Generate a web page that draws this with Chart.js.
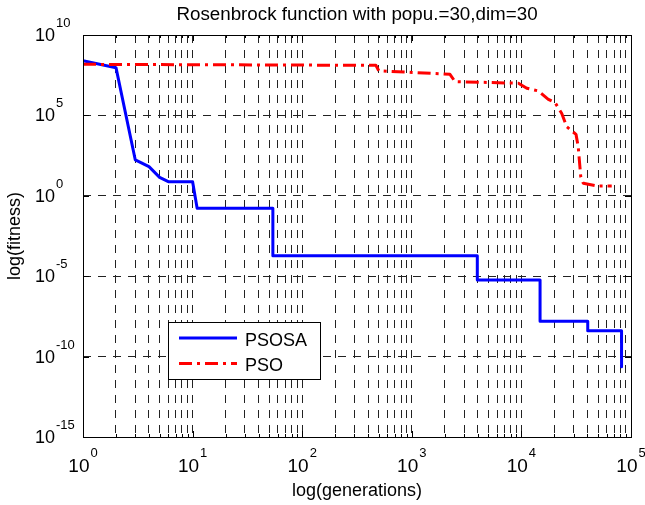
<!DOCTYPE html>
<html>
<head>
<meta charset="utf-8">
<script src="https://cdn.jsdelivr.net/npm/chart.js@4/dist/chart.umd.min.js"></script>
<style>
  html, body { margin: 0; padding: 0; background: #fff; }
  canvas { display: block; }
</style>
</head>
<body>
<canvas id="c" width="645" height="505"></canvas>
<script>
// Texts
const titleText = 'Rosenbrock function with popu.=30,dim=30';
const xTitle = 'log(generations)';
const yTitle = 'log(fitness)';
const seriesNames = ['PSOSA', 'PSO'];

// Tick label exponents (10^e)
const xTickExponents = [0, 1, 2, 3, 4, 5];
const yTickExponents = [-15, -10, -5, 0, 5, 10];

// PSOSA convergence curve
const psosaGen = [1, 2, 3, 4, 5, 6, 10, 11, 54, 54, 3960, 3960, 14800, 14800, 40300, 40300, 82000, 82000];
const psosaFit = [2.5e8, 9.3e7, 170, 65, 14, 7.6, 7.6, 0.166, 0.166, 1.9e-4, 1.9e-4, 5.8e-6, 5.8e-6, 1.6e-8, 1.6e-8, 4.1e-9, 4.1e-9, 2.3e-11];

// PSO convergence curve
const psoGen = [1, 470, 500, 2230, 2480, 9400, 11200, 14300, 17600, 20300, 23300, 25900, 31500, 33000, 34800, 36700, 48700, 66700];
const psoFit = [1.5e8, 1.3e8, 5.9e7, 3.6e7, 1.26e7, 1.0e7, 4.9e6, 3.3e6, 1.0e6, 6.2e5, 1.35e5, 2.0e4, 6.6e3, 1.1e3, 15.5, 6.0, 4.1, 4.1];

const FONT = '"Liberation Sans", Arial, Helvetica, sans-serif';
const BLUE = '#0000ff';
const RED = '#ff0000';
const PSO_DASH = [13, 5, 3, 5];

const toPoints = (xs, ys) => xs.map((v, i) => ({ x: v, y: ys[i] }));

// Decade ticks with minor 2..9 subdivisions for the generations axis
function decadeTicks(exps) {
  const out = [];
  for (let k = 0; k < exps.length; k++) {
    const base = Math.pow(10, exps[k]);
    out.push({ value: base, major: true });
    if (k < exps.length - 1) {
      for (let m = 2; m <= 9; m++) out.push({ value: m * base, major: false });
    }
  }
  return out;
}

function drawPow(ctx, px, py, exp, baseSize, expSize, align, dyBase, dyExp) {
  const base = '10';
  const e = String(exp);
  ctx.font = baseSize + 'px ' + FONT;
  const wb = ctx.measureText(base).width;
  ctx.font = expSize + 'px ' + FONT;
  const we = ctx.measureText(e).width;
  let xb;
  if (align === 'center') {
    xb = px - (wb + 1 + we) / 2;
  } else {
    xb = px - wb; // right edge of "10" at px
  }
  ctx.textAlign = 'left';
  ctx.textBaseline = 'alphabetic';
  ctx.font = baseSize + 'px ' + FONT;
  ctx.fillText(base, xb, py + dyBase);
  ctx.font = expSize + 'px ' + FONT;
  ctx.fillText(e, xb + wb + 1, py + dyExp);
}

const decorations = {
  id: 'decorations',
  afterDraw(chart) {
    const { ctx, chartArea: a, scales: { x, y } } = chart;
    ctx.save();
    ctx.fillStyle = '#000';
    ctx.strokeStyle = '#000';
    ctx.lineWidth = 1;
    ctx.setLineDash([]);

    // Inward tick marks
    ctx.beginPath();
    x.ticks.forEach(t => {
      const px = Math.round(x.getPixelForValue(t.value)) + 0.5;
      const len = t.major ? 6 : 3;
      ctx.moveTo(px, a.bottom); ctx.lineTo(px, a.bottom - len);
      ctx.moveTo(px, a.top); ctx.lineTo(px, a.top + len);
    });
    y.ticks.forEach(t => {
      const py = Math.round(y.getPixelForValue(t.value)) + 0.5;
      ctx.moveTo(a.left, py); ctx.lineTo(a.left + 6, py);
      ctx.moveTo(a.right, py); ctx.lineTo(a.right - 6, py);
    });
    ctx.stroke();

    // Axes box
    ctx.strokeRect(Math.round(a.left) + 0.5, Math.round(a.top) + 0.5,
                   Math.round(a.right - a.left), Math.round(a.bottom - a.top));

    // Tick labels
    xTickExponents.forEach(e => {
      const px = x.getPixelForValue(Math.pow(10, e));
      drawPow(ctx, px, 0, e, 19, 13, 'center', 472, 457);
    });
    yTickExponents.forEach(e => {
      const py = y.getPixelForValue(Math.pow(10, e));
      drawPow(ctx, a.left - 28, py, e, 18, 13, 'right', 6, -8);
    });

    // Axis titles
    ctx.font = '18px ' + FONT;
    ctx.textAlign = 'center';
    ctx.textBaseline = 'alphabetic';
    ctx.fillText(xTitle, (a.left + a.right) / 2, 496);
    ctx.save();
    ctx.translate(20, (a.top + a.bottom) / 2);
    ctx.rotate(-Math.PI / 2);
    ctx.fillText(yTitle, 0, 0);
    ctx.restore();

    // Title
    ctx.font = '18.8px ' + FONT;
    ctx.fillText(titleText, (a.left + a.right) / 2, 20);

    // Legend
    const lx = 168.5, ly = 322.5, lw = 152, lh = 57;
    ctx.fillStyle = '#fff';
    ctx.fillRect(lx, ly, lw, lh);
    ctx.strokeStyle = '#000';
    ctx.lineWidth = 1;
    ctx.strokeRect(lx, ly, lw, lh);
    const rows = chart.data.datasets.map((ds, i) => ({ ds, yy: [338, 363.5][i] }));
    rows.forEach(({ ds, yy }) => {
      ctx.beginPath();
      ctx.strokeStyle = ds.borderColor;
      ctx.lineWidth = ds.borderWidth;
      ctx.setLineDash(ds.borderDash || []);
      ctx.moveTo(179, yy);
      ctx.lineTo(237, yy);
      ctx.stroke();
      ctx.setLineDash([]);
      ctx.fillStyle = '#000';
      ctx.font = '18px ' + FONT;
      ctx.textAlign = 'left';
      ctx.textBaseline = 'alphabetic';
      ctx.fillText(ds.label, 245, yy + 7.5);
    });
    ctx.restore();
  }
};

new Chart(document.getElementById('c'), {
  type: 'line',
  data: {
    datasets: [
      {
        label: seriesNames[0],
        data: toPoints(psosaGen, psosaFit),
        borderColor: BLUE,
        borderWidth: 3,
        pointRadius: 0,
        tension: 0,
        fill: false,
        order: 1,
        borderJoinStyle: 'round'
      },
      {
        label: seriesNames[1],
        data: toPoints(psoGen, psoFit),
        borderColor: RED,
        borderWidth: 3,
        borderDash: PSO_DASH,
        pointRadius: 0,
        tension: 0,
        fill: false,
        order: 0,
        borderJoinStyle: 'round'
      }
    ]
  },
  options: {
    responsive: false,
    animation: false,
    devicePixelRatio: 1,
    layout: { padding: { left: 83, top: 35, right: 14, bottom: 68 } },
    plugins: { legend: { display: false }, title: { display: false }, tooltip: { enabled: false } },
    scales: {
      x: {
        type: 'logarithmic',
        min: 1,
        max: 1e5,
        ticks: { display: false },
        afterBuildTicks: s => { s.ticks = decadeTicks(xTickExponents); },
        afterFit: s => { s.height = 0; },
        grid: { color: '#222', lineWidth: 1, drawTicks: false },
        border: { display: false, dash: [8, 7] }
      },
      y: {
        type: 'logarithmic',
        min: 1e-15,
        max: 1e10,
        ticks: { display: false },
        afterBuildTicks: s => { s.ticks = yTickExponents.map(e => ({ value: Math.pow(10, e), major: true })); },
        afterFit: s => { s.width = 0; },
        grid: { color: '#222', lineWidth: 1, drawTicks: false },
        border: { display: false, dash: [8, 7] }
      }
    }
  },
  plugins: [decorations]
});
</script>
</body>
</html>
